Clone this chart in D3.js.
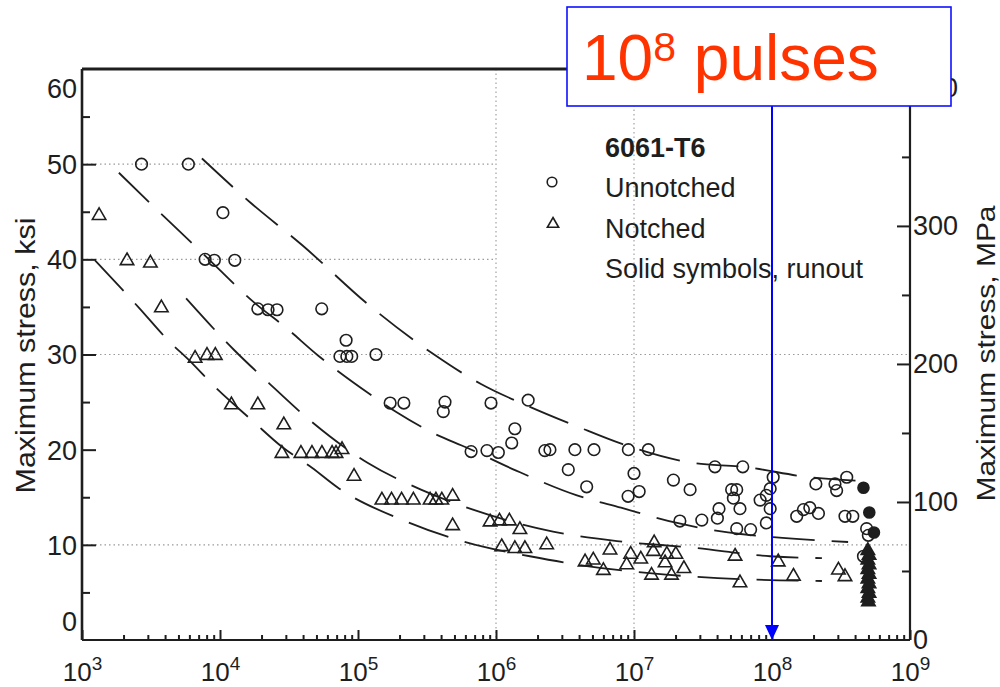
<!DOCTYPE html>
<html>
<head>
<meta charset="utf-8">
<script src="https://cdn.jsdelivr.net/npm/d3@7"></script>
<style>
  html, body { margin: 0; padding: 0; background: #fff; }
  svg { display: block; font-family: "Liberation Sans", Arial, Helvetica, sans-serif; }
</style>
</head>
<body>
<svg id="chart" width="1000" height="687"></svg>
<script>
// Fatigue (S-N) data for 6061-T6 aluminium: cycles to failure vs. maximum stress (ksi)

// Unnotched specimens (open circles)
const unnotchedCycles = [
  2.7e3, 5.9e3, 1.05e4, 7.8e3, 9.1e3, 1.28e4, 1.88e4, 2.23e4, 2.59e4, 5.46e4,
  8.2e4, 7.4e4, 8.3e4, 9.0e4, 1.35e5, 1.71e5, 2.15e5, 4.27e5, 4.15e5, 9.2e5,
  1.37e6, 1.30e6, 6.6e5, 8.6e5, 1.04e6, 1.71e6, 2.26e6, 2.46e6, 3.73e6, 5.13e6,
  3.34e6, 4.54e6, 9.1e6, 9.06e6, 1.27e7, 1.0e7, 1.09e7, 1.93e7, 2.55e7, 3.86e7,
  2.15e7, 3.1e7, 4.02e7, 4.13e7, 6.14e7, 1.02e8, 2.08e8, 2.86e8, 2.94e8, 3.48e8,
  5.1e7, 5.55e7, 5.25e7, 5.86e7, 8.2e7, 9.1e7, 9.7e7, 9.7e7, 9.1e7, 5.55e7,
  7.0e7, 1.51e8, 1.69e8, 1.88e8, 2.17e8, 3.38e8, 3.85e8, 4.85e8, 4.99e8, 4.6e8
];
const unnotchedStress = [
  50.0, 50.0, 44.9, 40.0, 39.9, 39.9, 34.8, 34.7, 34.7, 34.8,
  31.5, 29.8, 29.8, 29.8, 30.0, 24.9, 24.9, 25.0, 24.0, 24.9,
  22.2, 20.7, 19.8, 19.9, 19.7, 25.2, 19.9, 20.0, 20.0, 20.0,
  17.9, 16.1, 20.0, 15.1, 20.0, 17.5, 15.6, 16.8, 15.8, 18.2,
  12.5, 12.6, 12.8, 13.8, 18.2, 17.1, 16.4, 16.4, 15.7, 17.1,
  15.8, 15.8, 14.9, 13.8, 14.7, 15.2, 15.9, 13.8, 12.3, 11.7,
  11.6, 13.0, 13.7, 13.9, 13.3, 13.0, 13.0, 11.7, 11.0, 8.8
];

// Notched specimens (open triangles)
const notchedCycles = [
  1.33e3, 2.12e3, 3.13e3, 3.76e3, 6.6e3, 8.05e3, 9.25e3, 1.21e4, 1.88e4, 2.9e4,
  2.81e4, 3.86e4, 4.64e4, 5.48e4, 6.49e4, 6.93e4, 7.66e4, 9.36e4, 1.49e5, 1.75e5,
  2.07e5, 2.52e5, 3.33e5, 3.67e5, 4.05e5, 4.85e5, 4.85e5, 9.06e5, 1.06e6, 1.25e6,
  1.49e6, 1.1e6, 1.37e6, 1.62e6, 2.33e6, 6.7e6, 4.42e6, 5.07e6, 6.0e6, 8.85e6,
  9.46e6, 1.12e7, 1.40e7, 1.38e7, 1.73e7, 2.01e7, 1.68e7, 1.34e7, 1.87e7, 2.3e7,
  5.4e7, 5.86e7, 1.11e8, 1.43e8, 3.03e8, 3.38e8
];
const notchedStress = [
  44.6, 39.85, 39.6, 34.9, 29.6, 29.9, 29.9, 24.7, 24.7, 22.6,
  19.6, 19.6, 19.6, 19.6, 19.6, 19.6, 20.0, 17.2, 14.7, 14.7,
  14.7, 14.7, 14.7, 14.7, 14.7, 15.1, 12.0, 12.4, 12.5, 12.5,
  11.6, 9.8, 9.6, 9.6, 10.0, 9.45, 8.2, 8.4, 7.3, 7.9,
  9.0, 8.5, 10.2, 9.3, 9.0, 9.0, 8.1, 6.8, 6.8, 7.5,
  8.8, 6.0, 8.2, 6.7, 7.35, 6.65
];

// Runouts (solid symbols)
const runoutCircleCycles = [4.6e8, 5.07e8, 5.48e8];
const runoutCircleStress = [16.0, 13.4, 11.3];
const runoutTriangleCycles = [4.95e8, 5.05e8, 4.95e8, 5.05e8, 4.95e8, 5.05e8, 4.95e8, 5.05e8, 4.95e8, 5.05e8, 4.95e8, 5.0e8];
const runoutTriangleStress = [9.4, 8.9, 8.4, 7.9, 7.4, 6.9, 6.4, 5.9, 5.4, 4.9, 4.4, 4.0];

// Fitted S-N curves (dashed)
const curveUpperCycles = [7.4e3, 1.65e4, 3.93e4, 1.22e5, 3.56e5, 7.78e5, 1.76e6, 3.93e6, 8.18e6, 2.68e7, 6.17e7, 1.88e8, 4.72e8];
const curveUpperStress = [50.6, 46.0, 41.5, 35.1, 30.0, 26.9, 24.5, 22.4, 20.6, 18.6, 18.2, 17.1, 16.7];
const curveMidCycles = [1.85e3, 3.99e3, 7.78e3, 1.79e4, 2.96e4, 5.13e4, 1.2e5, 1.92e5, 3.56e5, 6.17e5, 1.4e6, 3.86e6, 8.05e6, 2.05e7, 4.8e7, 1.02e8, 3.56e8];
const curveMidStress = [49.1, 44.4, 40.4, 35.4, 32.9, 29.9, 25.9, 23.9, 21.7, 20.2, 17.8, 15.2, 13.9, 12.3, 11.3, 10.8, 10.3];
const curveNotchACycles = [5.68e3, 1.26e4, 2.26e4, 4.64e4, 1.18e5, 2.86e5, 6.81e5, 2.59e6, 7.53e6, 2.68e7, 9.68e7, 2.3e8];
const curveNotchAStress = [35.9, 30.5, 27.0, 22.9, 18.6, 15.8, 13.7, 11.4, 10.4, 9.7, 8.8, 8.6];
const curveNotchBCycles = [1.24e3, 1.88e3, 2.59e3, 4.2e3, 6.27e3, 8.89e3, 1.76e4, 2.81e4, 4.64e4, 7.16e4, 2.19e5, 8.05e5, 1.76e6, 4.42e6, 1.35e7, 5.86e7, 2.3e8];
const curveNotchBStress = [39.9, 37.1, 34.9, 31.5, 29.1, 26.8, 22.9, 20.3, 18.1, 16.0, 12.5, 9.8, 8.8, 7.8, 7.0, 6.4, 6.2];

// Axes
const cycleExponents = [3, 4, 5, 6, 7, 8, 9];
const ksiTicks = [0, 10, 20, 30, 40, 50, 60];
const ksiMinorTicks = [5, 15, 25, 35, 45, 55];
const mpaTicks = [0, 100, 200, 300, 400];
const mpaMinorTicks = [50, 150, 250, 350];
const gridStress = [10, 30, 40, 50];
const gridStressEnd = [1e9, 1e9, 1e6, 1e6];
const gridCycles = [1e6, 1e7, 1e8];
const KSI_TO_MPA = 6.894757;

const legendTitle = "6061-T6";
const legendItems = ["Unnotched", "Notched", "Solid symbols, runout"];
const yTitleLeft = "Maximum stress, ksi";
const yTitleRight = "Maximum stress, MPa";
const markedCycles = 1e8;

// ---------------------------------------------------------------------------
const svg = d3.select("#chart");
const ink = "#1e1e1e";

const x = d3.scaleLog().domain([1e3, 1e9]).range([82, 910]);
const y = d3.scaleLinear().domain([0, 60]).range([640, 69]);
const yMPa = d3.scaleLinear().domain([0, 60 * KSI_TO_MPA]).range([640, 69]);

// Dotted grid
const grid = svg.append("g").attr("stroke", "#9a9a9a").attr("stroke-width", 1.1)
  .attr("stroke-dasharray", "1.5,3");
gridStress.forEach((s, i) => {
  grid.append("line").attr("x1", x(1e3)).attr("x2", x(gridStressEnd[i]))
    .attr("y1", y(s)).attr("y2", y(s));
});
gridCycles.forEach(n => {
  grid.append("line").attr("x1", x(n)).attr("x2", x(n)).attr("y1", y(60)).attr("y2", y(0));
});

// Axis ticks
function styleAxis(g) {
  g.select(".domain").remove();
  g.selectAll(".tick line").attr("stroke", ink).attr("stroke-width", 2);
  g.selectAll(".tick text").attr("fill", ink).attr("font-family", "Liberation Sans, Arial, sans-serif");
}

const leftMajor = svg.append("g").attr("transform", `translate(${x(1e3)},0)`)
  .call(d3.axisLeft(y).tickValues(ksiTicks).tickSize(-14).tickPadding(5).tickFormat(d3.format("d")))
  .call(styleAxis);
leftMajor.selectAll(".tick text").attr("font-size", 27)
  .attr("dy", d => d === 60 ? "1.05em" : d === 0 ? "-0.35em" : "0.35em");
leftMajor.selectAll(".tick").filter(d => d === 60 || d === 0).select("line").remove();

svg.append("g").attr("transform", `translate(${x(1e3)},0)`)
  .call(d3.axisLeft(y).tickValues(ksiMinorTicks).tickSize(-8).tickFormat(""))
  .call(styleAxis);

const rightMajor = svg.append("g").attr("transform", `translate(${x(1e9)},0)`)
  .call(d3.axisRight(yMPa).tickValues(mpaTicks).tickSize(-13).tickPadding(3).tickFormat(d3.format("d")))
  .call(styleAxis);
rightMajor.selectAll(".tick text").attr("font-size", 27);
rightMajor.selectAll(".tick").filter(d => d === 0).select("line").remove();

svg.append("g").attr("transform", `translate(${x(1e9)},0)`)
  .call(d3.axisRight(yMPa).tickValues(mpaMinorTicks).tickSize(-8).tickFormat(""))
  .call(styleAxis);

const decades = cycleExponents.map(e => Math.pow(10, e));
const minorCycles = [];
cycleExponents.slice(0, -1).forEach(e => {
  for (let m = 2; m <= 9; m++) minorCycles.push(m * Math.pow(10, e));
});

const bottomMajor = svg.append("g").attr("transform", `translate(0,${y(0)})`)
  .call(d3.axisBottom(x).tickValues(decades).tickSize(-10).tickFormat(""))
  .call(styleAxis);
bottomMajor.selectAll(".tick").each(function (d) {
  const t = d3.select(this).append("text")
    .attr("y", 41).attr("text-anchor", "middle").attr("fill", ink)
    .attr("font-size", 26);
  t.append("tspan").text("10");
  t.append("tspan").attr("font-size", 19).attr("dy", -11).text(Math.round(Math.log10(d)));
});

svg.append("g").attr("transform", `translate(0,${y(0)})`)
  .call(d3.axisBottom(x).tickValues(minorCycles).tickSize(-5).tickFormat(""))
  .call(styleAxis);

// Frame
const frame = svg.append("g").attr("stroke", ink).attr("fill", "none");
frame.append("line").attr("x1", x(1e3)).attr("x2", x(1e9)).attr("y1", y(60)).attr("y2", y(60)).attr("stroke-width", 3);
frame.append("line").attr("x1", x(1e3)).attr("x2", x(1e9)).attr("y1", y(0)).attr("y2", y(0)).attr("stroke-width", 2.2);
frame.append("line").attr("x1", x(1e3)).attr("x2", x(1e3)).attr("y1", y(60)).attr("y2", y(0)).attr("stroke-width", 2.6);
frame.append("line").attr("x1", x(1e9)).attr("x2", x(1e9)).attr("y1", y(60)).attr("y2", y(0)).attr("stroke-width", 2.2);

// Axis titles
svg.append("text").attr("transform", `translate(35,${(y(0) + y(60)) / 2 + 1}) rotate(-90)`)
  .attr("text-anchor", "middle").attr("font-size", 27).attr("fill", ink)
  .attr("textLength", 276).attr("lengthAdjust", "spacingAndGlyphs").text(yTitleLeft);
svg.append("text").attr("transform", `translate(995,${(y(0) + y(60)) / 2 - 1}) rotate(-90)`)
  .attr("text-anchor", "middle").attr("font-size", 26).attr("fill", ink)
  .attr("textLength", 296).attr("lengthAdjust", "spacingAndGlyphs").text(yTitleRight);

// Fitted curves
const line = d3.line().x(d => x(d[0])).y(d => y(d[1])).curve(d3.curveMonotoneX);
const curves = [
  d3.zip(curveUpperCycles, curveUpperStress),
  d3.zip(curveMidCycles, curveMidStress),
  d3.zip(curveNotchACycles, curveNotchAStress),
  d3.zip(curveNotchBCycles, curveNotchBStress)
];
svg.append("g").selectAll("path").data(curves).join("path")
  .attr("d", line).attr("fill", "none").attr("stroke", ink)
  .attr("stroke-width", 1.8).attr("stroke-dasharray", "42,17");

// Symbols
const tri = d3.symbol(d3.symbolTriangle, 78);
const marks = svg.append("g").attr("stroke", ink).attr("stroke-width", 1.6);

marks.selectAll("circle.un").data(d3.zip(unnotchedCycles, unnotchedStress)).join("circle")
  .attr("class", "un").attr("cx", d => x(d[0])).attr("cy", d => y(d[1])).attr("r", 5.8)
  .attr("fill", "none");
marks.selectAll("path.no").data(d3.zip(notchedCycles, notchedStress)).join("path")
  .attr("class", "no").attr("d", tri)
  .attr("transform", d => `translate(${x(d[0])},${y(d[1])})`).attr("fill", "none");
marks.selectAll("circle.ro").data(d3.zip(runoutCircleCycles, runoutCircleStress)).join("circle")
  .attr("class", "ro").attr("cx", d => x(d[0])).attr("cy", d => y(d[1])).attr("r", 5.5)
  .attr("fill", ink);
marks.selectAll("path.rt").data(d3.zip(runoutTriangleCycles, runoutTriangleStress)).join("path")
  .attr("class", "rt").attr("d", tri)
  .attr("transform", d => `translate(${x(d[0])},${y(d[1])})`).attr("fill", ink);

// Legend
const legend = svg.append("g").attr("fill", ink).attr("font-size", 27);
legend.append("text").attr("x", 605).attr("y", 157).attr("font-weight", "bold").text(legendTitle);
legendItems.forEach((t, i) => {
  legend.append("text").attr("x", 605).attr("y", 197 + i * 40.5).text(t);
});
legend.append("circle").attr("cx", 552).attr("cy", 182).attr("r", 4.8)
  .attr("fill", "none").attr("stroke", ink).attr("stroke-width", 1.6);
legend.append("path").attr("d", d3.symbol(d3.symbolTriangle, 55))
  .attr("transform", "translate(553,224)").attr("fill", "none").attr("stroke", ink).attr("stroke-width", 1.6);

// Annotation: 10^8 cycles marker
const ax = x(markedCycles);
const note = svg.append("g");
note.append("line").attr("x1", ax).attr("x2", ax).attr("y1", 106).attr("y2", y(0) - 14)
  .attr("stroke", "#0000ff").attr("stroke-width", 2);
note.append("path")
  .attr("d", `M${ax - 7},${y(0) - 15} L${ax + 7},${y(0) - 15} L${ax},${y(0)} Z`)
  .attr("fill", "#0000ff");
note.append("rect").attr("x", 567).attr("y", 7).attr("width", 384).attr("height", 99)
  .attr("fill", "#fff").attr("stroke", "#1010ff").attr("stroke-width", 1.6);
const noteText = note.append("text").attr("x", 582).attr("y", 80)
  .attr("fill", "#ff3300").attr("font-size", 64);
noteText.append("tspan").text("10");
noteText.append("tspan").attr("font-size", 41).attr("dy", -19).text("8");
noteText.append("tspan").attr("dy", 19).text(" pulses");
</script>
</body>
</html>
